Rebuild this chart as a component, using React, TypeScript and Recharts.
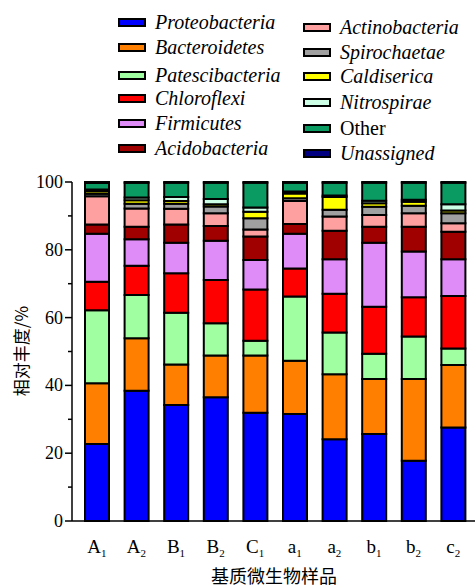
import React from 'react'
import { BarChart, Bar, XAxis, YAxis } from 'recharts'

const categories = ['A1', 'A2', 'B1', 'B2', 'C1', 'a1', 'a2', 'b1', 'b2', 'c2']

const proteobacteria = [22.7, 38.4, 34.2, 36.5, 31.9, 31.6, 24.1, 25.7, 17.8, 27.6]
const bacteroidetes = [17.9, 15.5, 12.0, 12.3, 16.9, 15.7, 19.2, 16.2, 24.1, 18.4]
const patescibacteria = [21.6, 12.8, 15.2, 9.5, 4.4, 18.9, 12.3, 7.4, 12.5, 4.9]
const chloroflexi = [8.4, 8.6, 11.7, 12.8, 15.1, 8.3, 11.4, 13.9, 11.6, 15.5]
const firmicutes = [14.1, 7.8, 9.0, 11.6, 8.7, 10.2, 10.2, 18.9, 13.5, 10.8]
const acidobacteria = [2.8, 3.7, 5.4, 4.3, 6.9, 2.9, 8.4, 4.7, 7.3, 8.1]
const actinobacteria = [8.3, 5.4, 4.6, 3.8, 2.1, 6.8, 4.2, 3.5, 4.0, 2.5]
const spirochaetae = [0.7, 1.4, 1.5, 2.0, 3.3, 0.8, 2.0, 2.4, 2.2, 3.0]
const caldiserica = [0.8, 1.0, 0.8, 0.6, 1.9, 1.4, 3.8, 1.0, 1.2, 0.8]
const nitrospirae = [0.5, 0.8, 1.2, 1.6, 1.3, 0.6, 0.4, 0.8, 0.6, 1.8]
const other = [1.9, 4.4, 4.2, 4.8, 7.3, 2.6, 3.8, 5.3, 5.0, 6.4]
const unassigned = [0.3, 0.2, 0.2, 0.2, 0.2, 0.2, 0.2, 0.2, 0.2, 0.2]

const yTicks = [0, 10, 20, 30, 40, 50, 60, 70, 80, 90, 100]

const SERIES = [
  { key: 'Proteobacteria', values: proteobacteria, color: '#0000ff', italic: true },
  { key: 'Bacteroidetes', values: bacteroidetes, color: '#ff8000', italic: true },
  { key: 'Patescibacteria', values: patescibacteria, color: '#a0ffa0', italic: true },
  { key: 'Chloroflexi', values: chloroflexi, color: '#ff0000', italic: true },
  { key: 'Firmicutes', values: firmicutes, color: '#e08cf8', italic: true },
  { key: 'Acidobacteria', values: acidobacteria, color: '#a00000', italic: true },
  { key: 'Actinobacteria', values: actinobacteria, color: '#ffa0a0', italic: true },
  { key: 'Spirochaetae', values: spirochaetae, color: '#a0a0a0', italic: true },
  { key: 'Caldiserica', values: caldiserica, color: '#ffff00', italic: true },
  { key: 'Nitrospirae', values: nitrospirae, color: '#ccffe6', italic: true },
  { key: 'Other', values: other, color: '#0a9b62', italic: false },
  { key: 'Unassigned', values: unassigned, color: '#000080', italic: true },
]

const data = categories.map((c, i) => {
  const row: Record<string, number | string> = { name: c }
  SERIES.forEach((s) => {
    row[s.key] = s.values[i]
  })
  return row
})

const SERIF = 'Liberation Serif'
const CJK = 'Noto Sans CJK SC'

// legend rows: [series index, left, top-center]
const legendPos = [
  [0, 118, 22], [1, 118, 47], [2, 118, 75], [3, 118, 98], [4, 118, 123], [5, 118, 148],
  [6, 303, 27], [7, 303, 52], [8, 303, 76], [9, 303, 102], [10, 303, 128], [11, 303, 153],
]

function YTick(props: any) {
  const { x, y, payload } = props
  const major = payload.value % 20 === 0
  return (
    <g>
      <line x1={x - (major ? 7 : 4)} x2={x} y1={y} y2={y} stroke="#000" strokeWidth={1.5} />
      {major && (
        <text x={x - 9} y={y} dy={6} textAnchor="end" style={{ fontFamily: SERIF }} fontSize={18} fill="#000">
          {payload.value}
        </text>
      )}
    </g>
  )
}

function XTick(props: any) {
  const { x, y, payload } = props
  const s = String(payload.value)
  return (
    <text x={x} y={y + 24} textAnchor="middle" style={{ fontFamily: SERIF }} fill="#000">
      <tspan fontSize={19}>{s[0]}</tspan>
      <tspan fontSize={11} dy={4}>{s.slice(1)}</tspan>
    </text>
  )
}

export default function App() {
  return (
    <div style={{ position: 'absolute', left: 0, top: 0, width: 475, height: 587, background: '#fff', overflow: 'hidden' }}>
      <BarChart
        width={475}
        height={587}
        data={data}
        margin={{ top: 182, right: 0, bottom: 0, left: 0 }}
        barSize={24}
      >
        <XAxis
          dataKey="name"
          axisLine={{ stroke: '#000', strokeWidth: 1.5 }}
          tickLine={false}
          tick={<XTick />}
          padding={{ left: 5, right: 2 }}
          interval={0}
          height={66}
        />
        <YAxis
          domain={[0, 100]}
          ticks={yTicks}
          width={72}
          axisLine={{ stroke: '#000', strokeWidth: 1.5 }}
          tickLine={false}
          tickSize={0}
          tickMargin={0}
          tick={<YTick />}
          interval={0}
        />
        {SERIES.map((s) => (
          <Bar
            key={s.key}
            dataKey={s.key}
            stackId="a"
            fill={s.color}
            stroke="#000"
            strokeWidth={2}
            isAnimationActive={false}
          />
        ))}
      </BarChart>
      <div
        style={{
          position: 'absolute',
          left: 20,
          top: 351,
          transform: 'translate(-50%, -50%) rotate(-90deg)',
          fontFamily: CJK,
          fontSize: 17,
          lineHeight: 1,
          whiteSpace: 'nowrap',
          color: '#000',
        }}
      >
        相对丰度/%
      </div>
      <div
        style={{
          position: 'absolute',
          left: 274,
          top: 575,
          transform: 'translate(-50%, -50%)',
          fontFamily: CJK,
          fontSize: 18,
          lineHeight: 1,
          whiteSpace: 'nowrap',
          color: '#000',
        }}
      >
        基质微生物样品
      </div>
      {legendPos.map(([idx, left, top]) => {
        const s = SERIES[idx]
        return (
          <div
            key={s.key}
            style={{
              position: 'absolute',
              left,
              top: top - 12,
              height: 24,
              display: 'flex',
              alignItems: 'center',
              fontFamily: SERIF,
              fontSize: 20,
              fontStyle: s.italic ? 'italic' : 'normal',
              whiteSpace: 'nowrap',
              color: '#000',
            }}
          >
            <span
              style={{
                display: 'inline-block',
                width: 24,
                height: 5,
                background: s.color,
                border: '2px solid #000',
                marginRight: 9,
              }}
            />
            {s.key}
          </div>
        )
      })}
    </div>
  )
}
